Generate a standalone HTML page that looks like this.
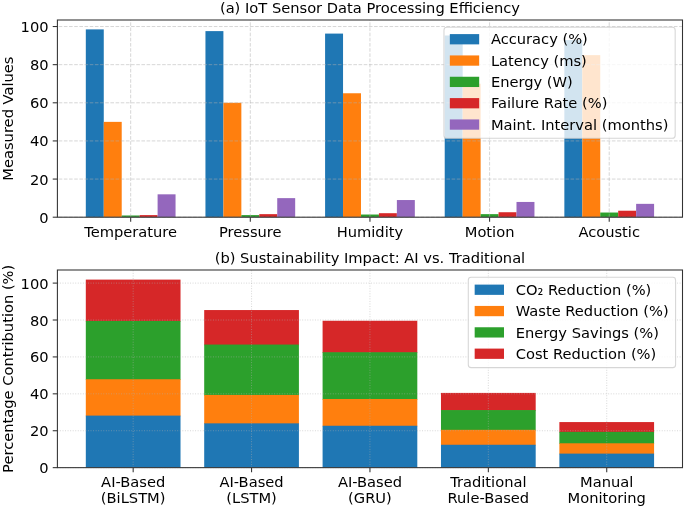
<!DOCTYPE html>
<html lang="en"><head><meta charset="utf-8"><title>IoT Sensor Data Processing Efficiency and Sustainability Impact</title>
<style>html,body{margin:0;padding:0;background:#fff}svg{display:block;will-change:transform}</style></head>
<body>
<svg width="685" height="508" viewBox="0 0 685 508" font-family='"DejaVu Sans", "Liberation Sans", sans-serif' font-size="14.67" fill="#000">
<rect x="0" y="0" width="685" height="508" fill="#fff"/>
<g>
<rect x="85.81" y="29.39" width="17.95" height="187.81" fill="#1f77b4"/>
<rect x="103.76" y="121.87" width="17.95" height="95.33" fill="#ff7f0e"/>
<rect x="121.7" y="215.48" width="17.95" height="1.72" fill="#2ca02c"/>
<rect x="139.65" y="215.1" width="17.95" height="2.1" fill="#d62728"/>
<rect x="157.6" y="194.32" width="17.95" height="22.88" fill="#9467bd"/>
<rect x="205.45" y="31.11" width="17.95" height="186.09" fill="#1f77b4"/>
<rect x="223.4" y="102.8" width="17.95" height="114.4" fill="#ff7f0e"/>
<rect x="241.34" y="215.1" width="17.95" height="2.1" fill="#2ca02c"/>
<rect x="259.29" y="214.15" width="17.95" height="3.05" fill="#d62728"/>
<rect x="277.23" y="198.13" width="17.95" height="19.07" fill="#9467bd"/>
<rect x="325.09" y="33.59" width="17.95" height="183.61" fill="#1f77b4"/>
<rect x="343.03" y="93.26" width="17.95" height="123.94" fill="#ff7f0e"/>
<rect x="360.98" y="214.53" width="17.95" height="2.67" fill="#2ca02c"/>
<rect x="378.92" y="213.2" width="17.95" height="4" fill="#d62728"/>
<rect x="396.87" y="200.04" width="17.95" height="17.16" fill="#9467bd"/>
<rect x="444.72" y="35.49" width="17.95" height="181.71" fill="#1f77b4"/>
<rect x="462.67" y="83.73" width="17.95" height="133.47" fill="#ff7f0e"/>
<rect x="480.61" y="214.15" width="17.95" height="3.05" fill="#2ca02c"/>
<rect x="498.56" y="212.24" width="17.95" height="4.96" fill="#d62728"/>
<rect x="516.5" y="201.95" width="17.95" height="15.25" fill="#9467bd"/>
<rect x="564.36" y="40.07" width="17.95" height="177.13" fill="#1f77b4"/>
<rect x="582.3" y="55.13" width="17.95" height="162.07" fill="#ff7f0e"/>
<rect x="600.25" y="212.53" width="17.95" height="4.67" fill="#2ca02c"/>
<rect x="618.2" y="210.72" width="17.95" height="6.48" fill="#d62728"/>
<rect x="636.14" y="203.85" width="17.95" height="13.35" fill="#9467bd"/>
</g>
<g>
<line x1="130.68" y1="217.2" x2="130.68" y2="20" stroke="#b0b0b0" stroke-opacity="0.5" stroke-width="1" stroke-dasharray="3.6 1.57" fill="none"/>
<line x1="250.31" y1="217.2" x2="250.31" y2="20" stroke="#b0b0b0" stroke-opacity="0.5" stroke-width="1" stroke-dasharray="3.6 1.57" fill="none"/>
<line x1="369.95" y1="217.2" x2="369.95" y2="20" stroke="#b0b0b0" stroke-opacity="0.5" stroke-width="1" stroke-dasharray="3.6 1.57" fill="none"/>
<line x1="489.59" y1="217.2" x2="489.59" y2="20" stroke="#b0b0b0" stroke-opacity="0.5" stroke-width="1" stroke-dasharray="3.6 1.57" fill="none"/>
<line x1="609.22" y1="217.2" x2="609.22" y2="20" stroke="#b0b0b0" stroke-opacity="0.5" stroke-width="1" stroke-dasharray="3.6 1.57" fill="none"/>
<line x1="57.4" y1="217.2" x2="682.5" y2="217.2" stroke="#b0b0b0" stroke-opacity="0.5" stroke-width="1" stroke-dasharray="3.6 1.57" fill="none" stroke-dashoffset="-1.3"/>
<line x1="57.4" y1="179.07" x2="682.5" y2="179.07" stroke="#b0b0b0" stroke-opacity="0.5" stroke-width="1" stroke-dasharray="3.6 1.57" fill="none" stroke-dashoffset="-1.3"/>
<line x1="57.4" y1="140.93" x2="682.5" y2="140.93" stroke="#b0b0b0" stroke-opacity="0.5" stroke-width="1" stroke-dasharray="3.6 1.57" fill="none" stroke-dashoffset="-1.3"/>
<line x1="57.4" y1="102.8" x2="682.5" y2="102.8" stroke="#b0b0b0" stroke-opacity="0.5" stroke-width="1" stroke-dasharray="3.6 1.57" fill="none" stroke-dashoffset="-1.3"/>
<line x1="57.4" y1="64.66" x2="682.5" y2="64.66" stroke="#b0b0b0" stroke-opacity="0.5" stroke-width="1" stroke-dasharray="3.6 1.57" fill="none" stroke-dashoffset="-1.3"/>
<line x1="57.4" y1="26.53" x2="682.5" y2="26.53" stroke="#b0b0b0" stroke-opacity="0.5" stroke-width="1" stroke-dasharray="3.6 1.57" fill="none" stroke-dashoffset="-1.3"/>
</g>
<g stroke="#333" stroke-width="1.07">
<line x1="130.68" y1="217.2" x2="130.68" y2="221.87" />
<line x1="250.31" y1="217.2" x2="250.31" y2="221.87" />
<line x1="369.95" y1="217.2" x2="369.95" y2="221.87" />
<line x1="489.59" y1="217.2" x2="489.59" y2="221.87" />
<line x1="609.22" y1="217.2" x2="609.22" y2="221.87" />
<line x1="52.73" y1="217.2" x2="57.4" y2="217.2" />
<line x1="52.73" y1="179.07" x2="57.4" y2="179.07" />
<line x1="52.73" y1="140.93" x2="57.4" y2="140.93" />
<line x1="52.73" y1="102.8" x2="57.4" y2="102.8" />
<line x1="52.73" y1="64.66" x2="57.4" y2="64.66" />
<line x1="52.73" y1="26.53" x2="57.4" y2="26.53" />
</g>
<rect x="57.4" y="20" width="625.1" height="197.2" fill="none" stroke="#333" stroke-width="1.07"/>
<text x="130.68" y="236.7" text-anchor="middle">Temperature</text>
<text x="250.31" y="236.7" text-anchor="middle">Pressure</text>
<text x="369.95" y="236.7" text-anchor="middle">Humidity</text>
<text x="489.59" y="236.7" text-anchor="middle">Motion</text>
<text x="609.22" y="236.7" text-anchor="middle">Acoustic</text>
<text x="48.6" y="222.75" text-anchor="end">0</text>
<text x="48.6" y="184.62" text-anchor="end">20</text>
<text x="48.6" y="146.48" text-anchor="end">40</text>
<text x="48.6" y="108.35" text-anchor="end">60</text>
<text x="48.6" y="70.21" text-anchor="end">80</text>
<text x="48.6" y="32.08" text-anchor="end">100</text>
<text x="369.95" y="12.6" text-anchor="middle">(a) IoT Sensor Data Processing Efficiency</text>
<text transform="translate(13.1 118.6) rotate(-90)" text-anchor="middle">Measured Values</text>
<rect x="443.97" y="27.33" width="231.2" height="111" rx="2.9" ry="2.9" fill="#fff" fill-opacity="0.8" stroke="#ccc" stroke-opacity="0.8" stroke-width="1.07"/>
<rect x="449.84" y="34.1" width="29.33" height="10.27" fill="#1f77b4"/>
<text x="490.9" y="44.4" text-anchor="start">Accuracy (%)</text>
<rect x="449.84" y="55.43" width="29.33" height="10.27" fill="#ff7f0e"/>
<text x="490.9" y="65.73" text-anchor="start">Latency (ms)</text>
<rect x="449.84" y="76.76" width="29.33" height="10.27" fill="#2ca02c"/>
<text x="490.9" y="87.06" text-anchor="start">Energy (W)</text>
<rect x="449.84" y="98.09" width="29.33" height="10.27" fill="#d62728"/>
<text x="490.9" y="108.39" text-anchor="start">Failure Rate (%)</text>
<rect x="449.84" y="119.42" width="29.33" height="10.27" fill="#9467bd"/>
<text x="490.9" y="129.72" text-anchor="start">Maint. Interval (months)</text>
<g>
<rect x="85.81" y="279.6" width="94.71" height="42.04" fill="#d62728"/>
<rect x="85.81" y="320.94" width="94.71" height="59.02" fill="#2ca02c"/>
<rect x="85.81" y="379.25" width="94.71" height="37.06" fill="#ff7f0e"/>
<rect x="85.81" y="415.61" width="94.71" height="52.04" fill="#1f77b4"/>
<rect x="204.2" y="310.05" width="94.71" height="35.21" fill="#d62728"/>
<rect x="204.2" y="344.56" width="94.71" height="51.08" fill="#2ca02c"/>
<rect x="204.2" y="394.94" width="94.71" height="29.12" fill="#ff7f0e"/>
<rect x="204.2" y="423.36" width="94.71" height="44.29" fill="#1f77b4"/>
<rect x="322.59" y="320.75" width="94.71" height="32.17" fill="#d62728"/>
<rect x="322.59" y="352.22" width="94.71" height="47.48" fill="#2ca02c"/>
<rect x="322.59" y="399" width="94.71" height="27.46" fill="#ff7f0e"/>
<rect x="322.59" y="425.76" width="94.71" height="41.89" fill="#1f77b4"/>
<rect x="440.98" y="392.91" width="94.71" height="17.86" fill="#d62728"/>
<rect x="440.98" y="410.07" width="94.71" height="20.45" fill="#2ca02c"/>
<rect x="440.98" y="429.82" width="94.71" height="15.65" fill="#ff7f0e"/>
<rect x="440.98" y="444.77" width="94.71" height="22.88" fill="#1f77b4"/>
<rect x="559.37" y="422.07" width="94.71" height="10.48" fill="#d62728"/>
<rect x="559.37" y="431.85" width="94.71" height="12.14" fill="#2ca02c"/>
<rect x="559.37" y="443.29" width="94.71" height="11.03" fill="#ff7f0e"/>
<rect x="559.37" y="453.62" width="94.71" height="14.03" fill="#1f77b4"/>
</g>
<g>
<line x1="133.17" y1="467.65" x2="133.17" y2="270" stroke="#b0b0b0" stroke-opacity="0.5" stroke-width="1" stroke-dasharray="0.96 1.59" fill="none"/>
<line x1="251.56" y1="467.65" x2="251.56" y2="270" stroke="#b0b0b0" stroke-opacity="0.5" stroke-width="1" stroke-dasharray="0.96 1.59" fill="none"/>
<line x1="369.95" y1="467.65" x2="369.95" y2="270" stroke="#b0b0b0" stroke-opacity="0.5" stroke-width="1" stroke-dasharray="0.96 1.59" fill="none"/>
<line x1="488.34" y1="467.65" x2="488.34" y2="270" stroke="#b0b0b0" stroke-opacity="0.5" stroke-width="1" stroke-dasharray="0.96 1.59" fill="none"/>
<line x1="606.73" y1="467.65" x2="606.73" y2="270" stroke="#b0b0b0" stroke-opacity="0.5" stroke-width="1" stroke-dasharray="0.96 1.59" fill="none"/>
<line x1="57.4" y1="467.65" x2="682.5" y2="467.65" stroke="#b0b0b0" stroke-opacity="0.5" stroke-width="1" stroke-dasharray="0.96 1.59" fill="none"/>
<line x1="57.4" y1="430.74" x2="682.5" y2="430.74" stroke="#b0b0b0" stroke-opacity="0.5" stroke-width="1" stroke-dasharray="0.96 1.59" fill="none"/>
<line x1="57.4" y1="393.83" x2="682.5" y2="393.83" stroke="#b0b0b0" stroke-opacity="0.5" stroke-width="1" stroke-dasharray="0.96 1.59" fill="none"/>
<line x1="57.4" y1="356.92" x2="682.5" y2="356.92" stroke="#b0b0b0" stroke-opacity="0.5" stroke-width="1" stroke-dasharray="0.96 1.59" fill="none"/>
<line x1="57.4" y1="320.01" x2="682.5" y2="320.01" stroke="#b0b0b0" stroke-opacity="0.5" stroke-width="1" stroke-dasharray="0.96 1.59" fill="none"/>
<line x1="57.4" y1="283.1" x2="682.5" y2="283.1" stroke="#b0b0b0" stroke-opacity="0.5" stroke-width="1" stroke-dasharray="0.96 1.59" fill="none"/>
</g>
<g stroke="#333" stroke-width="1.07">
<line x1="133.17" y1="467.65" x2="133.17" y2="472.32" />
<line x1="251.56" y1="467.65" x2="251.56" y2="472.32" />
<line x1="369.95" y1="467.65" x2="369.95" y2="472.32" />
<line x1="488.34" y1="467.65" x2="488.34" y2="472.32" />
<line x1="606.73" y1="467.65" x2="606.73" y2="472.32" />
<line x1="52.73" y1="467.65" x2="57.4" y2="467.65" />
<line x1="52.73" y1="430.74" x2="57.4" y2="430.74" />
<line x1="52.73" y1="393.83" x2="57.4" y2="393.83" />
<line x1="52.73" y1="356.92" x2="57.4" y2="356.92" />
<line x1="52.73" y1="320.01" x2="57.4" y2="320.01" />
<line x1="52.73" y1="283.1" x2="57.4" y2="283.1" />
</g>
<rect x="57.4" y="270" width="625.1" height="197.65" fill="none" stroke="#333" stroke-width="1.07"/>
<text x="133.17" y="487.35" text-anchor="middle">AI-Based</text>
<text x="133.17" y="503.35" text-anchor="middle">(BiLSTM)</text>
<text x="251.56" y="487.35" text-anchor="middle">AI-Based</text>
<text x="251.56" y="503.35" text-anchor="middle">(LSTM)</text>
<text x="369.95" y="487.35" text-anchor="middle">AI-Based</text>
<text x="369.95" y="503.35" text-anchor="middle">(GRU)</text>
<text x="488.34" y="487.35" text-anchor="middle">Traditional</text>
<text x="488.34" y="503.35" text-anchor="middle">Rule-Based</text>
<text x="606.73" y="487.35" text-anchor="middle">Manual</text>
<text x="606.73" y="503.35" text-anchor="middle">Monitoring</text>
<text x="48.6" y="473.2" text-anchor="end">0</text>
<text x="48.6" y="436.29" text-anchor="end">20</text>
<text x="48.6" y="399.38" text-anchor="end">40</text>
<text x="48.6" y="362.47" text-anchor="end">60</text>
<text x="48.6" y="325.56" text-anchor="end">80</text>
<text x="48.6" y="288.65" text-anchor="end">100</text>
<text x="369.95" y="262.6" text-anchor="middle">(b) Sustainability Impact: AI vs. Traditional</text>
<text transform="translate(13.1 368.82) rotate(-90)" text-anchor="middle">Percentage Contribution (%)</text>
<rect x="468.3" y="277.33" width="207.3" height="90.3" rx="2.9" ry="2.9" fill="#fff" fill-opacity="0.8" stroke="#ccc" stroke-opacity="0.8" stroke-width="1.07"/>
<rect x="474.67" y="284.6" width="29.33" height="10.27" fill="#1f77b4"/>
<text x="515.73" y="294.9" text-anchor="start">CO₂ Reduction (%)</text>
<rect x="474.67" y="305.93" width="29.33" height="10.27" fill="#ff7f0e"/>
<text x="515.73" y="316.23" text-anchor="start">Waste Reduction (%)</text>
<rect x="474.67" y="327.26" width="29.33" height="10.27" fill="#2ca02c"/>
<text x="515.73" y="337.56" text-anchor="start">Energy Savings (%)</text>
<rect x="474.67" y="348.59" width="29.33" height="10.27" fill="#d62728"/>
<text x="515.73" y="358.89" text-anchor="start">Cost Reduction (%)</text>
</svg>
</body></html>
